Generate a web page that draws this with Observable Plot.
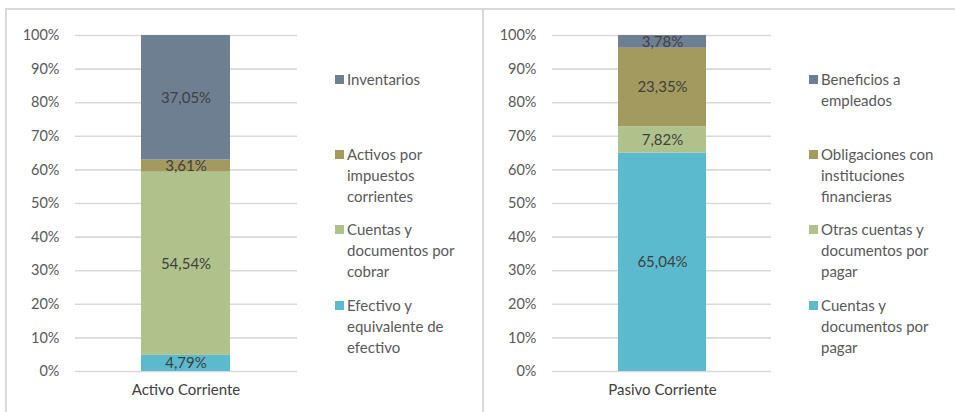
<!DOCTYPE html>
<html><head><meta charset="utf-8">
<script src="https://cdn.jsdelivr.net/npm/d3@7"></script>
<script src="https://cdn.jsdelivr.net/npm/@observablehq/plot@0.6"></script>
<style>
body{margin:0;background:#fff;}
#root{position:relative;width:955px;height:412px;overflow:hidden;font-family:Lato,"Open Sans",sans-serif;background:#fff;}
.line{position:absolute;background:#d9d9d9;}
.chart{position:absolute;top:0;}
.item{position:absolute;width:124px;font-size:15px;line-height:21px;color:#595959;}
.sw{position:absolute;width:9px;height:9px;}
</style></head>
<body><div id="root"></div>
<script>
// ---- data ----
const activoGroup = "Activo Corriente";
const activoCategories = ["Efectivo y equivalente de efectivo", "Cuentas y documentos por cobrar", "Activos por impuestos corrientes", "Inventarios"];
const activoValues = [4.79, 54.54, 3.61, 37.05];
const activoLabels = ["4,79%", "54,54%", "3,61%", "37,05%"];

const pasivoGroup = "Pasivo Corriente";
const pasivoCategories = ["Cuentas y documentos por pagar", "Otras cuentas y documentos por pagar", "Obligaciones con instituciones financieras", "Beneficios a empleados"];
const pasivoValues = [65.04, 7.82, 23.35, 3.78];
const pasivoLabels = ["65,04%", "7,82%", "23,35%", "3,78%"];

const yTickValues = [0, 10, 20, 30, 40, 50, 60, 70, 80, 90, 100];
const yTickLabels = ["0%", "10%", "20%", "30%", "40%", "50%", "60%", "70%", "80%", "90%", "100%"];

// ---- styles ----
const palette = ["#5bbacd", "#b0c28b", "#a39a5e", "#6e7f91"];
const root = document.getElementById("root");

function addLine(l, t, w, h) {
  const d = document.createElement("div");
  d.className = "line";
  Object.assign(d.style, {left: l + "px", top: t + "px", width: w + "px", height: h + "px"});
  root.appendChild(d);
}
addLine(5, 8, 950, 2);
addLine(5, 8, 2, 404);
addLine(482, 8, 2, 404);

function panel(cfg) {
  const data = cfg.categories.map((c, i) => ({group: cfg.group, category: c, value: cfg.values[i] / 100, label: cfg.labels[i]}));
  const ticks = yTickValues.map(v => v / 100);
  const fmt = d => yTickLabels[yTickValues.indexOf(Math.round(d * 100))];
  const chart = Plot.plot({
    width: cfg.width, height: 412,
    marginLeft: cfg.ml, marginRight: cfg.mr, marginTop: 35, marginBottom: 41,
    style: {fontFamily: "Lato, 'Open Sans', sans-serif", fontSize: "14.5px", color: "#595959", background: "transparent"},
    x: {domain: [cfg.group], padding: cfg.pad, label: null},
    y: {domain: [0, 1], label: null},
    color: {domain: cfg.categories, range: palette},
    marks: [
      Plot.gridY(ticks, {stroke: "#d9d9d9", strokeOpacity: 1, strokeWidth: 1.6}),
      Plot.barY(data, Plot.stackY({x: "group", y: "value", fill: "category", inset: 0})),
      Plot.text(data, Plot.stackY({x: "group", y: "value", text: "label", fill: "#404040", fontSize: 15})),
      Plot.axisY(ticks, {tickSize: 0, tickPadding: 16, tickFormat: fmt, label: null, fill: "#595959"}),
      Plot.axisX({tickSize: 0, tickPadding: 13, label: null, fill: "#404040", fontSize: 15})
    ]
  });
  chart.classList.add("chart");
  chart.style.left = cfg.left + "px";
  root.appendChild(chart);

  // legend (top item = top of stack)
  const tops = [69, 144, 219, 295];
  const order = cfg.categories.map((c, i) => i).reverse();
  order.forEach((idx, k) => {
    const sw = document.createElement("div");
    sw.className = "sw";
    sw.style.left = cfg.legendX + "px";
    sw.style.top = (tops[k] + 6) + "px";
    sw.style.background = palette[idx];
    root.appendChild(sw);
    const it = document.createElement("div");
    it.className = "item";
    it.style.left = (cfg.legendX + 12) + "px";
    it.style.top = tops[k] + "px";
    it.textContent = cfg.categories[idx];
    root.appendChild(it);
  });
}

panel({group: activoGroup, categories: activoCategories, values: activoValues, labels: activoLabels,
  left: 0, width: 478, ml: 75, mr: 181, pad: 0.4235, legendX: 335});
panel({group: pasivoGroup, categories: pasivoCategories, values: pasivoValues, labels: pasivoLabels,
  left: 478, width: 477, ml: 74, mr: 184, pad: 0.4268, legendX: 809});
</script>
</body></html>
